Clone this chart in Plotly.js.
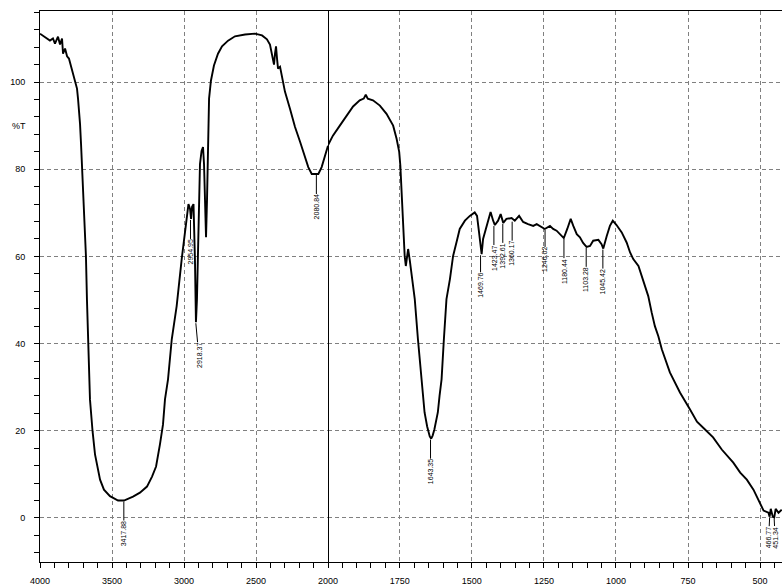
<!DOCTYPE html>
<html>
<head>
<meta charset="utf-8">
<script src="https://cdn.plot.ly/plotly-3.0.1.min.js"></script>
<style>html,body{margin:0;padding:0;background:#fff;}#chart{width:782px;height:586px;}</style>
</head>
<body>
<div id="chart"></div>
<script>
// Spectrum: wavenumber (cm-1) and transmittance (%T)
const wavenumber = [4000,3965,3931,3910,3896,3875,3861,3847,3840,3826,3812,3799,3785,3771,3757,3743,3736,3729,3722,3715,3708,3701,3694,3688,3681,3674,3667,3653,3635,3618,3583,3556,3514,3458,3417,3354,3306,3257,3222,3194,3167,3146,3132,3111,3085,3051,3016,2993,2977,2969,2958,2951,2944,2934,2924,2917,2910,2899,2889,2878,2868,2861,2854,2847,2840,2833,2826,2813,2792,2764,2736,2694,2646,2576,2507,2458,2424,2403,2389,2375,2368,2361,2354,2347,2333,2299,2264,2229,2194,2160,2137,2113,2080,2067,2044,2021,2000,
1982,1958,1935,1912,1889,1875,1868,1861,1843,1819,1796,1773,1761,1752,1748,1744,1739,1736,1733,1729,1726,1721,1715,1704,1698,1687,1675,1670,1664,1655,1646,1641,1636,1630,1618,1612,1605,1597,1588,1576,1565,1553,1542,1524,1507,1490,1482,1475,1466,1461,1451,1443,1435,1426,1420,1409,1400,1391,1380,1362,1351,1336,1322,1305,1287,1275,1258,1247,1229,1218,1206,1194,1181,1169,1157,1148,1136,1125,1114,1102,1090,1079,1061,1050,1044,1032,1021,1011,998,980,963,951,940,922,911,899,888,876,865,853,841,813,778,743,719,691,663,633,593,569,546,523,511,500,488,471,467,463,456,451,446,436,425];
const transmittance = [111.1,110.2,109.5,110.0,108.8,110.4,108.6,110.0,106.5,107.7,105.9,105.4,103.5,101.7,100.3,98.5,96.2,93.9,90.4,85.8,81.2,76.6,70.9,66.3,60.1,50.2,40.1,27.2,19.9,14.6,8.8,6.5,5.0,4.0,4.0,4.9,5.8,7.2,9.5,11.8,16.9,21.4,27.2,31.8,41.0,48.6,59.4,66.3,70.2,72.0,70.9,68.6,71.4,72.0,59.4,44.9,50.2,68.6,81.2,84.2,85.1,81.2,72.0,64.4,73.2,89.3,96.2,100.3,103.8,106.5,108.2,109.5,110.5,110.9,111.1,110.7,109.8,108.6,105.9,104.0,106.5,108.2,105.4,103.1,103.5,97.8,93.9,89.7,86.3,83.1,80.5,78.9,78.9,78.9,80.5,82.8,85.4,
87.7,90.0,92.3,94.4,95.8,96.2,97.1,96.2,95.8,94.6,92.7,90.0,87.0,84.0,80.8,75.5,67.4,64.0,60.1,57.8,59.8,61.7,59.0,52.5,50.2,41.0,31.8,27.2,24.2,21.0,18.7,18.2,18.9,20.3,24.2,28.0,31.8,41.0,50.2,54.8,60.1,63.3,66.3,68.2,69.3,70.1,69.3,65.5,60.5,64.0,66.3,68.2,70.2,68.2,67.2,68.2,69.7,67.7,68.6,68.8,68.2,69.3,67.9,67.4,67.0,67.4,66.7,66.3,67.0,66.3,65.9,65.1,64.2,66.3,68.6,67.0,65.1,64.4,63.1,62.2,62.4,63.6,63.8,62.8,61.8,64.7,67.0,68.2,67.2,65.5,63.2,60.9,59.4,57.8,55.5,53.2,50.9,47.1,44.0,41.7,38.7,33.4,28.8,24.9,22.1,20.3,18.5,15.7,12.7,10.4,8.8,6.5,4.9,3.5,1.7,1.2,0.3,2.1,0.3,0.1,2.1,1.2,1.9];

// Peak labels
const peakWn = [3417.88,2954.95,2918.37,2080.84,1643.35,1469.76,1423.47,1392.61,1360.17,1246.02,1180.44,1103.28,1045.42,466.77,451.34];
const peakT = [4.0,68.6,44.9,78.9,18.2,60.5,67.2,67.7,68.2,66.3,64.2,62.2,61.8,0.3,0.1];
const peakText = ["3417.88","2954.95","2918.37","2080.84","1643.35","1469.76","1423.47","1392.61","1360.17","1246.02","1180.44","1103.28","1045.42","466.77","451.34"];

const BREAK = 2000;
const leftX = [], leftY = [], rightX = [], rightY = [];
wavenumber.forEach((w, i) => {
  if (w >= BREAK) { leftX.push(w); leftY.push(transmittance[i]); }
  if (w <= BREAK) { rightX.push(w); rightY.push(transmittance[i]); }
});

const lineStyle = {color: '#000', width: 1.9};
const traces = [
  {x: leftX, y: leftY, xaxis: 'x', yaxis: 'y', type: 'scatter', mode: 'lines', line: lineStyle, hoverinfo: 'skip'},
  {x: rightX, y: rightY, xaxis: 'x2', yaxis: 'y', type: 'scatter', mode: 'lines', line: lineStyle, hoverinfo: 'skip'}
];

const tickFont = {family: 'Liberation Sans, Arial, sans-serif', size: 9, color: '#000'};
const gridStyle = {showgrid: true, gridcolor: '#808080', gridwidth: 1, griddash: '4px,3px'};
const splitFrac = 288 / 742;

const axisCommon = Object.assign({
  showline: true, linecolor: '#000', linewidth: 1, mirror: true,
  ticks: 'outside', ticklen: 5, tickcolor: '#000', tickwidth: 1,
  tickfont: tickFont, ticklabelstandoff: 5, zeroline: false
}, gridStyle);

const annotations = peakWn.map((w, i) => {
  let ax = 0, ay = 33;
  if (i === 2) ax = 3;
  if (i === 5) ay = 31;
  if (i === 9) ay = 31;
  if (i === 13) { ax = -1; ay = 21; }
  if (i === 14) { ax = 1; ay = 20; }
  return {
    x: w, y: peakT[i], xref: w >= BREAK ? 'x' : 'x2', yref: 'y',
    text: peakText[i], textangle: -90, showarrow: true, arrowhead: 0,
    arrowwidth: 1, arrowcolor: '#000', ax: ax, ay: ay, standoff: 1,
    borderpad: 0,
    font: {family: 'Liberation Sans, Arial, sans-serif', size: 7, color: '#000'}
  };
});
annotations.push({
  xref: 'paper', yref: 'y', x: -0.028, y: 90, text: '%T', showarrow: false,
  xanchor: 'center', yanchor: 'middle', font: tickFont
});

const layout = {
  width: 782, height: 586,
  margin: {l: 40, r: 0, t: 11, b: 24, pad: 0},
  paper_bgcolor: '#fff', plot_bgcolor: '#fff',
  showlegend: false,
  xaxis: Object.assign({}, axisCommon, {
    domain: [0, splitFrac], range: [4000, 2000], anchor: 'y',
    tick0: 0, dtick: 500,
    minor: {dtick: 100, ticks: 'outside', ticklen: 5, tickcolor: '#000', showgrid: false}
  }),
  xaxis2: Object.assign({}, axisCommon, {
    domain: [splitFrac, 1], range: [1999, 424], anchor: 'y',
    tick0: 0, dtick: 250,
    minor: {dtick: 50, ticks: 'outside', ticklen: 5, tickcolor: '#000', showgrid: false}
  }),
  yaxis: Object.assign({}, axisCommon, {
    range: [-10.1, 116.3], tick0: 0, dtick: 20, mirror: false, ticklabelstandoff: 7,
    minor: {dtick: 4, ticks: 'outside', ticklen: 5, tickcolor: '#000', showgrid: false}
  }),
  shapes: [{
    type: 'line', xref: 'paper', yref: 'paper',
    x0: (288.5) / 742, x1: (288.5) / 742, y0: 0, y1: 1,
    line: {color: '#000', width: 1}, layer: 'above'
  }],
  annotations: annotations
};

Plotly.newPlot('chart', traces, layout, {staticPlot: true, displayModeBar: false});
</script>
</body>
</html>
